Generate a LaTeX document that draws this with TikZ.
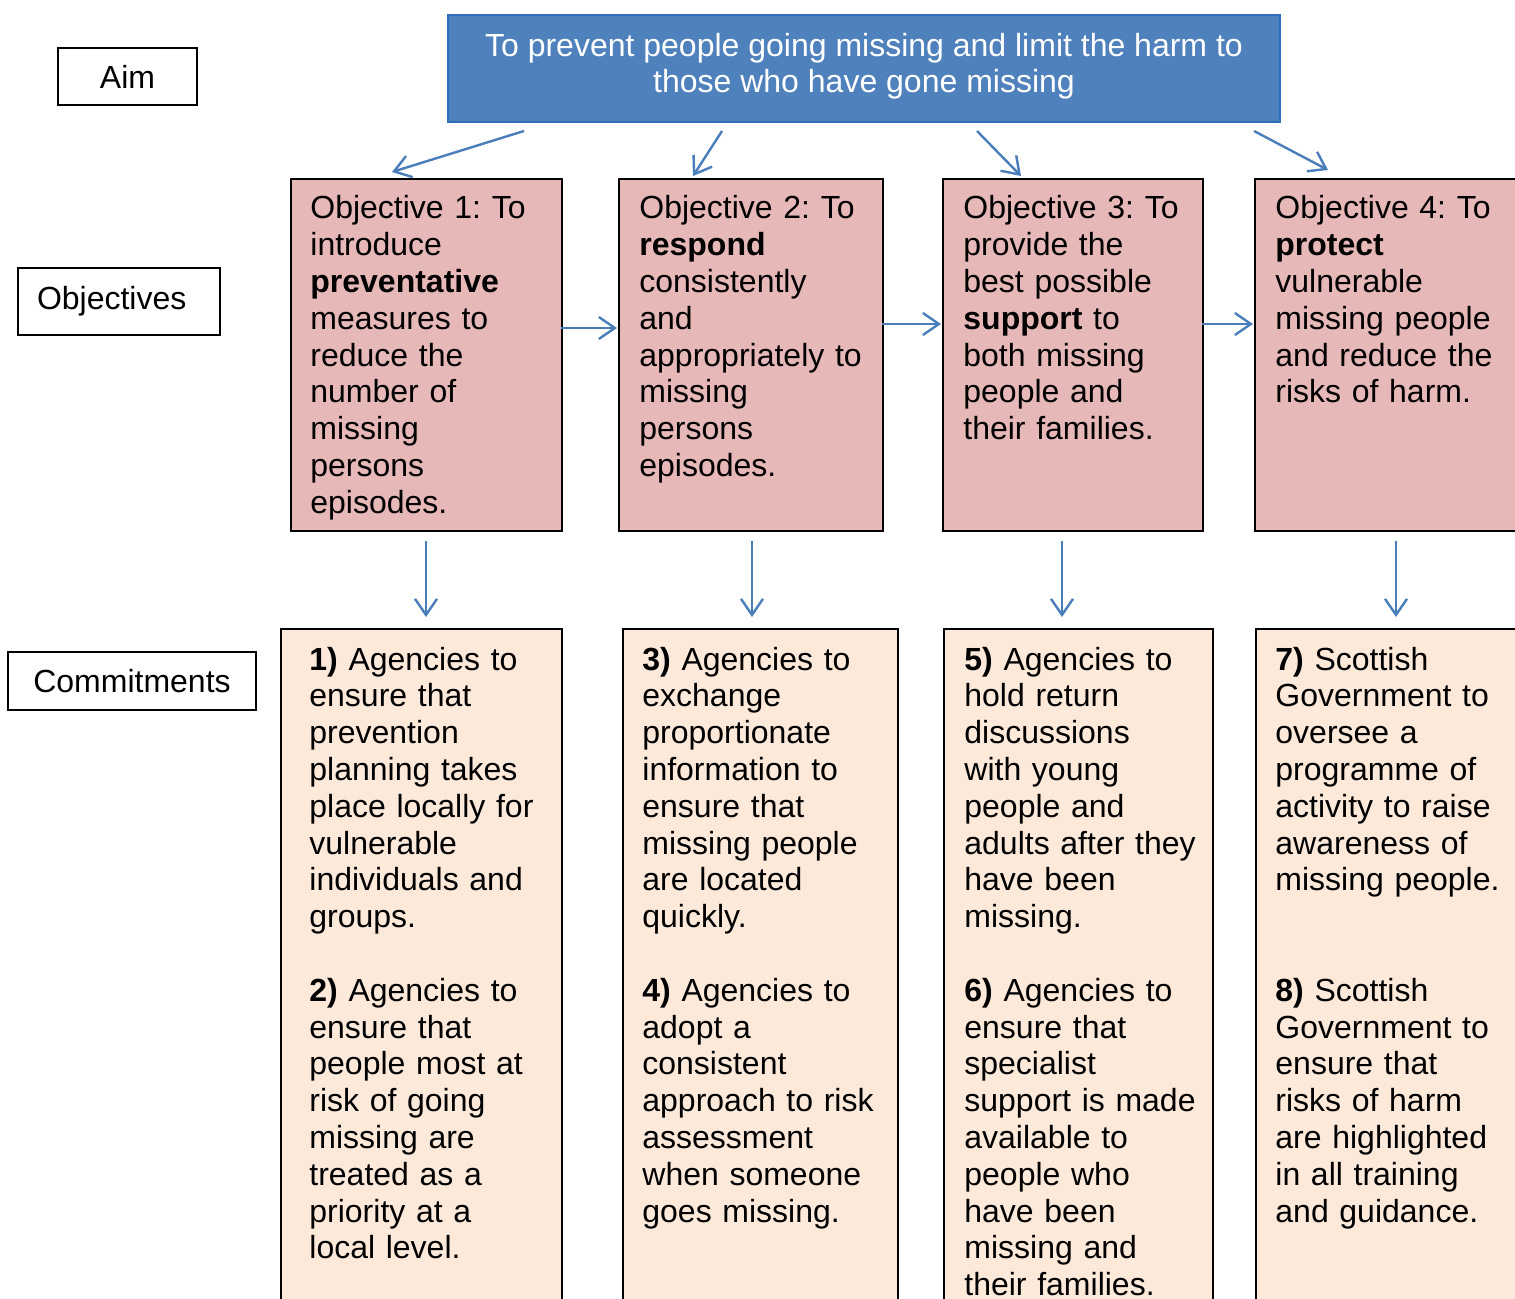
\documentclass[tikz,border=0pt]{standalone}
\usepackage{fontspec}
\setmainfont{Liberation Sans}
\usetikzlibrary{arrows.meta}
\frenchspacing
\definecolor{aimfill}{HTML}{4F81BD}
\definecolor{aimborder}{HTML}{2F6EBA}
\definecolor{objfill}{HTML}{E6B8B7}
\definecolor{comfill}{HTML}{FDE9D9}
\definecolor{arrowblue}{HTML}{4A7EBB}
\tikzset{
  lbl/.style={draw=black, line width=0.9pt, inner sep=0pt, font=\fontsize{16}{18.4}\selectfont},
  objbox/.style={draw=black, line width=1pt, fill=objfill, anchor=north west, inner sep=0pt, minimum height=176pt},
  combox/.style={draw=black, line width=1pt, fill=comfill, anchor=north west, inner sep=0pt, minimum height=356pt},
  boxtext/.style={anchor=base west, inner sep=0pt, text width=150pt, align=left, font=\fontsize{16}{18.4}\selectfont},
  conn/.style={draw=arrowblue, line width=1.2pt, -{Straight Barb[length=8pt, width=11pt, line width=1.2pt]}}
}
\begin{document}
\begin{tikzpicture}[x=0.5pt, y=-0.5pt]
\useasboundingbox (0,0) rectangle (1515,1299);
\clip (0,0) rectangle (1515,1299);

% left labels
\node[lbl, minimum width=69.5pt, minimum height=28.5pt] (aimlbl) at (127.5,76.5) {Aim};
\node[lbl, minimum width=101pt, minimum height=33.5pt, text width=95pt, align=left] (objlbl) at (119,301.5) {\hspace*{6.5pt}Objectives};
\node[lbl, minimum width=124pt, minimum height=29pt] (comlbl) at (132,681) {Commitments};

% aim box
\node[draw=aimborder, line width=1pt, fill=aimfill, minimum width=416pt, minimum height=53.5pt, inner sep=0pt] (aim) at (864,68.5) {};
\node[text=white, inner sep=0pt, align=center, font=\fontsize{16}{18.4}\selectfont, anchor=base] (aimt) at (864,93)
  {To prevent people going missing and limit the harm to\\those who have gone missing};

% objective boxes
\node[objbox, minimum width=135.5pt] (o1) at (290,178) {};
\node[objbox, minimum width=132pt] (o2) at (618,178) {};
\node[objbox, minimum width=130pt] (o3) at (942,178) {};
\node[objbox, minimum width=153pt] (o4) at (1254,178) {};

\node[boxtext] (o1t) at (310,219) {Objective 1: To\\introduce\\\textbf{preventative}\\measures to\\reduce the\\number of\\missing\\persons\\episodes.};
\node[boxtext] (o2t) at (639,219) {Objective 2: To\\\textbf{respond}\\consistently\\and\\appropriately to\\missing\\persons\\episodes.};
\node[boxtext] (o3t) at (963,219) {Objective 3: To\\provide the\\best possible\\\textbf{support} to\\both missing\\people and\\their families.};
\node[boxtext] (o4t) at (1275,219) {Objective 4: To\\\textbf{protect}\\vulnerable\\missing people\\and reduce the\\risks of harm.};

% commitment boxes
\node[combox, minimum width=140.5pt] (c1) at (280,628) {};
\node[combox, minimum width=137.5pt] (c2) at (622,628) {};
\node[combox, minimum width=134.5pt] (c3) at (943,628) {};
\node[combox, minimum width=152.5pt] (c4) at (1255,628) {};

\node[boxtext] (c1t) at (309,670) {\textbf{1)} Agencies to\\ensure that\\prevention\\planning takes\\place locally for\\vulnerable\\individuals and\\groups.\\[18.4pt]\textbf{2)} Agencies to\\ensure that\\people most at\\risk of going\\missing are\\treated as a\\priority at a\\local level.};
\node[boxtext] (c2t) at (642,670) {\textbf{3)} Agencies to\\exchange\\proportionate\\information to\\ensure that\\missing people\\are located\\quickly.\\[18.4pt]\textbf{4)} Agencies to\\adopt a\\consistent\\approach to risk\\assessment\\when someone\\goes missing.};
\node[boxtext] (c3t) at (964,670) {\textbf{5)} Agencies to\\hold return\\discussions\\with young\\people and\\adults after they\\have been\\missing.\\[18.4pt]\textbf{6)} Agencies to\\ensure that\\specialist\\support is made\\available to\\people who\\have been\\missing and\\their families.};
\node[boxtext] (c4t) at (1275,670) {\textbf{7)} Scottish\\Government to\\oversee a\\programme of\\activity to raise\\awareness of\\missing people.\\[36.8pt]\textbf{8)} Scottish\\Government to\\ensure that\\risks of harm\\are highlighted\\in all training\\and guidance.};

% connector end points
\coordinate (a1s) at (524,131); \coordinate (a1e) at (392,172);
\coordinate (a2s) at (722,131); \coordinate (a2e) at (693,176);
\coordinate (a3s) at (977,131); \coordinate (a3e) at (1021,176);
\coordinate (a4s) at (1254,131); \coordinate (a4e) at (1328,170);
\coordinate (h1s) at (561,328); \coordinate (h1e) at (617,328);
\coordinate (h2s) at (882,324); \coordinate (h2e) at (941,324);
\coordinate (h3s) at (1202,324); \coordinate (h3e) at (1253,324);
\coordinate (v1s) at (426,541); \coordinate (v1e) at (426,617);
\coordinate (v2s) at (752,541); \coordinate (v2e) at (752,617);
\coordinate (v3s) at (1062,541); \coordinate (v3e) at (1062,617);
\coordinate (v4s) at (1396,541); \coordinate (v4e) at (1396,617);

\foreach \s/\e in {a1s/a1e,a2s/a2e,a3s/a3e,a4s/a4e,h1s/h1e,h2s/h2e,h3s/h3e,v1s/v1e,v2s/v2e,v3s/v3e,v4s/v4e}
  \draw[conn] (\s) -- (\e);
\end{tikzpicture}
\end{document}
